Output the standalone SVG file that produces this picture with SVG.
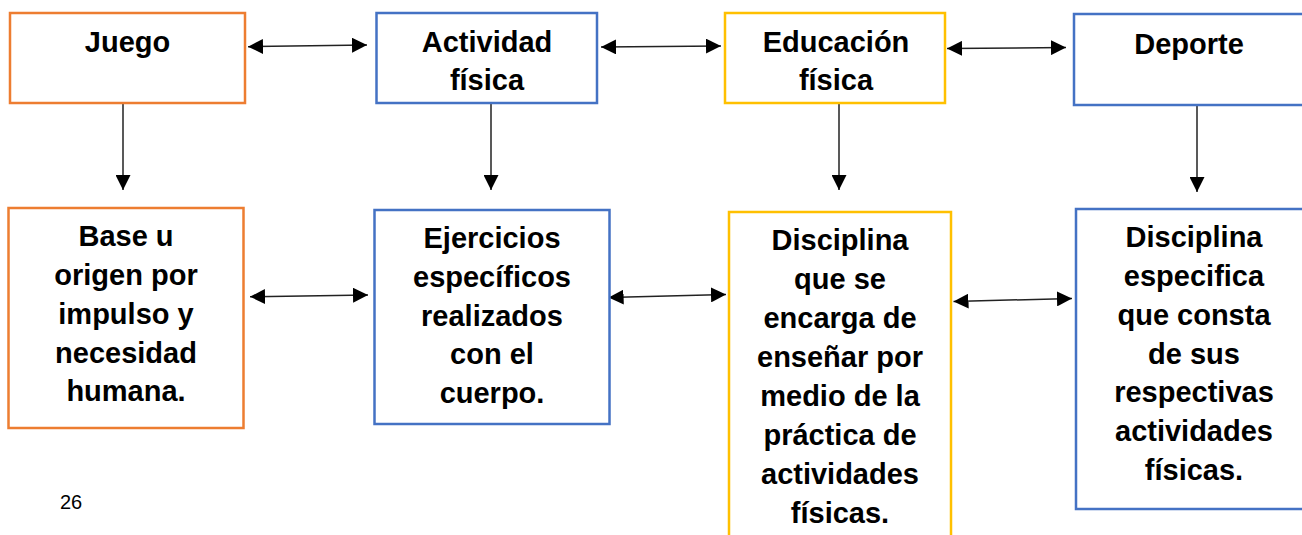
<svg xmlns="http://www.w3.org/2000/svg" width="1302" height="535" viewBox="0 0 1302 535">
<style>
.box{fill:#fff;stroke-width:2.5}
.o{stroke:#ED7D31}
.b{stroke:#4472C4}
.y{stroke:#FFC000}
.t{font-family:"Liberation Sans",Arial,sans-serif;font-weight:bold;font-size:29px;fill:#000;text-anchor:middle}
.c line{stroke:#222;stroke-width:1.5;fill:none}
.bi{marker-start:url(#ah);marker-end:url(#ah)}
.un{marker-end:url(#ah)}
</style>
<defs>
<marker id="ah" markerUnits="userSpaceOnUse" markerWidth="15" markerHeight="15" refX="15" refY="7.5" orient="auto-start-reverse">
<path d="M0,0 L15,7.5 L0,15 z" fill="#000"/>
</marker>
</defs>
<rect width="1302" height="535" fill="#fff"/>
<g id="connectors" class="c">
<line class="bi" x1="248" y1="46.7" x2="367" y2="45"/>
<line class="bi" x1="601" y1="47" x2="721" y2="46"/>
<line class="bi" x1="947" y1="48.5" x2="1066" y2="47.5"/>
<line class="bi" x1="250" y1="296.7" x2="368" y2="295"/>
<line class="bi" x1="608.6" y1="297.5" x2="726" y2="294.5"/>
<line class="bi" x1="953.5" y1="301.5" x2="1072" y2="298.5"/>
<line class="un" x1="123" y1="103" x2="123" y2="190"/>
<line class="un" x1="491" y1="103" x2="491" y2="190"/>
<line class="un" x1="839" y1="103" x2="839" y2="190"/>
<line class="un" x1="1197" y1="106" x2="1197" y2="192"/>
</g>
<g id="juego">
<rect class="box o" x="10" y="13" width="235" height="90"/>
<text class="t" x="127.5" y="52">Juego</text>
</g>
<g id="actividad">
<rect class="box b" x="376.5" y="13" width="220.5" height="90"/>
<text class="t" x="487" y="52">Actividad</text>
<text class="t" x="487" y="90">física</text>
</g>
<g id="educacion">
<rect class="box y" x="725" y="13" width="220" height="90"/>
<text class="t" x="836" y="52">Educación</text>
<text class="t" x="836" y="90">física</text>
</g>
<g id="deporte">
<rect class="box b" x="1074" y="14" width="232" height="91"/>
<text class="t" x="1189" y="54">Deporte</text>
</g>
<g id="base">
<rect class="box o" x="8.5" y="208" width="235" height="220"/>
<text class="t" x="126" y="246">Base u</text>
<text class="t" x="126" y="285">origen por</text>
<text class="t" x="126" y="324">impulso y</text>
<text class="t" x="126" y="363">necesidad</text>
<text class="t" x="126" y="401">humana.</text>
</g>
<g id="ejercicios">
<rect class="box b" x="374.5" y="210" width="235" height="214"/>
<text class="t" x="492" y="248">Ejercicios</text>
<text class="t" x="492" y="287">específicos</text>
<text class="t" x="492" y="326">realizados</text>
<text class="t" x="492" y="364">con el</text>
<text class="t" x="492" y="403">cuerpo.</text>
</g>
<g id="disciplina-ef">
<rect class="box y" x="729" y="212" width="222" height="340"/>
<text class="t" x="840" y="250">Disciplina</text>
<text class="t" x="840" y="289">que se</text>
<text class="t" x="840" y="328">encarga de</text>
<text class="t" x="840" y="367">enseñar por</text>
<text class="t" x="840" y="406">medio de la</text>
<text class="t" x="840" y="445">práctica de</text>
<text class="t" x="840" y="484">actividades</text>
<text class="t" x="840" y="523">físicas.</text>
</g>
<g id="disciplina-dep">
<rect class="box b" x="1076" y="209" width="236" height="300"/>
<text class="t" x="1194" y="247">Disciplina</text>
<text class="t" x="1194" y="286">especifica</text>
<text class="t" x="1194" y="325">que consta</text>
<text class="t" x="1194" y="364">de sus</text>
<text class="t" x="1194" y="402">respectivas</text>
<text class="t" x="1194" y="441">actividades</text>
<text class="t" x="1194" y="480">físicas.</text>
</g>
<text x="60" y="509" font-family="Liberation Sans, Arial, sans-serif" font-size="20" fill="#000">26</text>
</svg>
